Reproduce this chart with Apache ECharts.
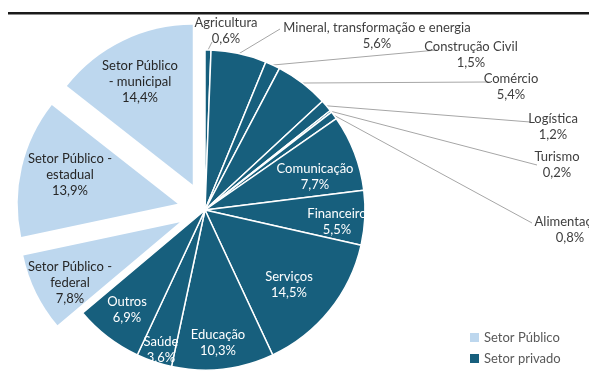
<!DOCTYPE html>
<html><head><meta charset="utf-8">
<script src="https://cdn.jsdelivr.net/npm/echarts@6/dist/echarts.min.js"></script>
<style>html,body{margin:0;padding:0;background:#fff}#c{width:589px;height:372px}</style>
</head><body><div id="c"></div>
<script>
// ---- data ----
var categories = ['Agricultura','Mineral, transformação e energia','Construção Civil','Comércio','Logística','Turismo','Alimentação','Comunicação','Financeiro','Serviços','Educação','Saúde','Outros','Setor Público -\nfederal','Setor Público -\nestadual','Setor Público\n- municipal'];
var values = [0.6,5.6,1.5,5.4,1.2,0.2,0.8,7.7,5.5,14.5,10.3,3.6,6.9,7.8,13.9,14.4];
var groups = ['privado','privado','privado','privado','privado','privado','privado','privado','privado','privado','privado','privado','privado','publico','publico','publico'];
var legendNames = ['Setor Público','Setor privado'];

// ---- styles / layout ----
var DARK = '#175F7D', LIGHT = '#BDD7EE';
var FONT = 'Lato';
var CENTER = [205,210], RADIUS = 160;
// label anchor positions (layout only)
var labelPos = {
  0:{x:226,y:31,lx:212,ly:42},
  1:{x:377,y:36,lx:280,ly:29},
  2:{x:471,y:55,lx:437,ly:50},
  3:{x:511,y:87,lx:487,ly:82},
  4:{x:553,y:127,lx:530,ly:122},
  5:{x:557,y:165,lx:537,ly:165},
  6:{x:570,y:230,lx:532,ly:223},
  7:{x:315,y:177},8:{x:337,y:222},9:{x:289,y:285},10:{x:218,y:343},
  11:{x:161,y:350},12:{x:127,y:310},13:{x:70,y:283},14:{x:70,y:175},15:{x:140,y:82}
};
var outside = {0:1,1:1,2:1,3:1,4:1,5:1,6:1};

function fmt(v){ return v.toFixed(1).replace('.', ',') + '%'; }

var mainData = categories.map(function(n,i){
  var pub = groups[i] === 'publico';
  var isOut = !!outside[i];
  return {
    name: n, value: values[i], selected: pub,
    itemStyle: { color: pub ? LIGHT : DARK, borderColor:'#fff', borderWidth: pub ? 0 : 1.5 },
    label: { show: !pub, position: isOut ? 'outside' : 'inside', color: isOut ? '#404040' : '#ffffff' },
    labelLine: { show: isOut }
  };
});
// transparent overlay carrying the labels of the exploded (public) slices
var overlayData = categories.map(function(n,i){
  var pub = groups[i] === 'publico';
  return {
    name: n, value: values[i],
    itemStyle: { color:'rgba(0,0,0,0)', borderWidth:0 },
    label: { show: pub, position:'inside', color:'#262626' },
    labelLine: { show:false }
  };
});

function layoutFn(p){
  var lp = labelPos[p.dataIndex];
  if(!lp) return {};
  var o = {x:lp.x, y:lp.y, align:'center', verticalAlign:'middle'};
  if(outside[p.dataIndex] && p.labelLinePoints){
    var s = p.labelLinePoints[0];
    o.labelLinePoints = [[s[0],s[1]],[lp.lx,lp.ly],[lp.lx,lp.ly]];
  }
  return o;
}
var labelBase = {
  show:true, fontFamily:FONT, fontSize:13, lineHeight:16, align:'center',
  formatter:function(p){ return p.name + '\n' + fmt(p.value); }
};

var legendBase = {
  orient:'vertical', left:470, itemWidth:9, itemHeight:9, icon:'rect', selectedMode:false,
  textStyle:{color:'#595959', fontFamily:FONT, fontSize:13}, padding:0, itemGap:4
};

var chart = echarts.init(document.getElementById('c'), null, {renderer:'canvas'});
chart.setOption({
  animation:false,
  graphic:[{type:'rect', shape:{x:8,y:12,width:581,height:2.5}, style:{fill:'#1a1a1a'}}],
  legend:[
    Object.assign({}, legendBase, {data:[legendNames[0]], top:331}),
    Object.assign({}, legendBase, {data:[legendNames[1]], top:352})
  ],
  series:[{
    type:'pie', center:CENTER, radius:[0,RADIUS], startAngle:90, clockwise:true,
    selectedMode:'multiple', selectedOffset:28,
    select:{itemStyle:{borderWidth:0}},
    emphasis:{disabled:true},
    label:labelBase,
    labelLine:{lineStyle:{color:'#a6a6a6', width:1}, length:10, length2:10},
    labelLayout:layoutFn,
    data:mainData
  },{
    type:'pie', center:CENTER, radius:[0,RADIUS], startAngle:90, clockwise:true,
    silent:true, selectedMode:false, emphasis:{disabled:true}, z:3,
    label:labelBase, labelLayout:layoutFn,
    data:overlayData
  },{
    type:'pie', center:[-50,-50], radius:[0,0], silent:true,
    label:{show:false}, labelLine:{show:false},
    data:[{name:legendNames[0], value:1, itemStyle:{color:LIGHT}},{name:legendNames[1], value:1, itemStyle:{color:DARK}}]
  }]
});
</script></body></html>
